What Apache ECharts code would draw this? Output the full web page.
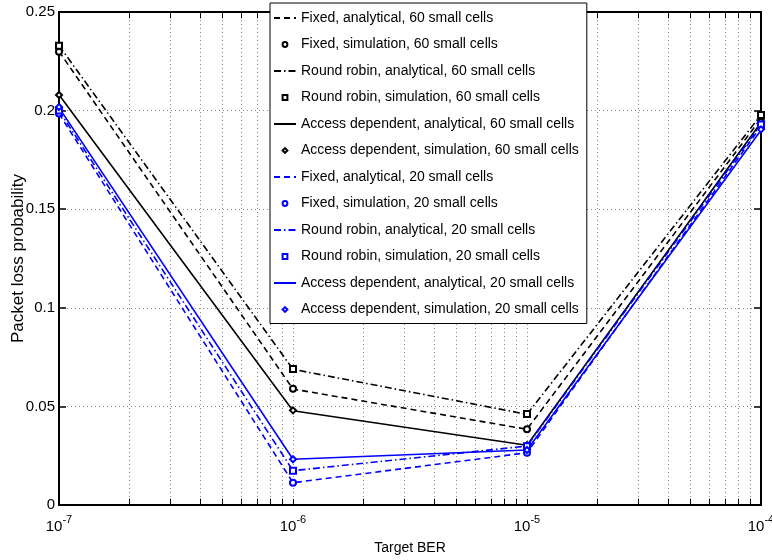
<!DOCTYPE html>
<html>
<head>
<meta charset="utf-8">
<script src="https://cdn.jsdelivr.net/npm/echarts@6/dist/echarts.min.js"></script>
<style>html,body{margin:0;padding:0;background:#fff;}#c{width:772px;height:560px;}</style>
</head>
<body>
<div id="c"></div>
<script>
// ---- data ----
const targetBER = [1e-7, 1e-6, 1e-5, 1e-4];
const fixedAnalytical60 = [0.2300, 0.0588, 0.0384, 0.1960];
const fixedSimulation60 = [0.2299, 0.0590, 0.0384, 0.1962];
const rrAnalytical60 = [0.2330, 0.0688, 0.0460, 0.1978];
const rrSimulation60 = [0.2329, 0.0690, 0.0461, 0.1978];
const adAnalytical60 = [0.2080, 0.0478, 0.0303, 0.1940];
const adSimulation60 = [0.2079, 0.0480, 0.0303, 0.1945];
const fixedAnalytical20 = [0.1985, 0.0113, 0.0265, 0.1920];
const fixedSimulation20 = [0.1985, 0.0113, 0.0265, 0.1915];
const rrAnalytical20 = [0.2000, 0.0174, 0.0299, 0.1930];
const rrSimulation20 = [0.2000, 0.0174, 0.0298, 0.1930];
const adAnalytical20 = [0.2015, 0.0232, 0.0279, 0.1900];
const adSimulation20 = [0.2018, 0.0232, 0.0279, 0.1905];
const yTicks = [0, 0.05, 0.1, 0.15, 0.2, 0.25];
const legendNames = [
  'Fixed, analytical, 60 small cells',
  'Fixed, simulation, 60 small cells',
  'Round robin, analytical, 60 small cells',
  'Round robin, simulation, 60 small cells',
  'Access dependent, analytical, 60 small cells',
  'Access dependent, simulation, 60 small cells',
  'Fixed, analytical, 20 small cells',
  'Fixed, simulation, 20 small cells',
  'Round robin, analytical, 20 small cells',
  'Round robin, simulation, 20 small cells',
  'Access dependent, analytical, 20 small cells',
  'Access dependent, simulation, 20 small cells'
];

// minor tick positions of the log axis (2..9 x 10^k)
const minorTicks = [];
for (let k = -7; k <= -5; k++) for (let m = 2; m <= 9; m++) minorTicks.push(m * Math.pow(10, k));

const FONT = "'Liberation Sans', Arial, sans-serif";
const BLACK = '#000000', BLUE = '#0000ff';
const DASH = [6, 4], DASHDOT = [7, 3, 1.5, 3];

function pairs(arr) { return targetBER.map((x, i) => [x, arr[i]]); }
function analytical(name, arr, color, type) {
  return { name, type: 'line', data: pairs(arr), symbol: 'none', z: 3,
    lineStyle: { color, width: 1.6, type }, itemStyle: { color } };
}
function simulation(name, arr, color, symbol) {
  return { name, type: 'line', data: pairs(arr), symbol, symbolSize: 6, z: 4,
    lineStyle: { color, width: 0, opacity: 0 }, itemStyle: { color, borderWidth: 1.3 } };
}

const minorGrid = minorTicks.map(x => [{ coord: [x, 0] }, { coord: [x, 0.25] }]);
const minorTickMarks = [];
minorTicks.forEach(x => {
  minorTickMarks.push([{ coord: [x, 0] }, { coord: [x, 0.0032] }]);
  minorTickMarks.push([{ coord: [x, 0.25] }, { coord: [x, 0.2468] }]);
});

const legendData = legendNames.map((n, i) => (i % 2 === 0)
  ? { name: n, itemStyle: { opacity: 0 } }
  : { name: n });

const chart = echarts.init(document.getElementById('c'), null, { renderer: 'canvas' });
chart.setOption({
  animation: false,
  backgroundColor: '#fff',
  grid: { left: 59, right: 11, top: 12, bottom: 55, outerBoundsMode: 'none', containLabel: false },
  legend: {
    data: legendData, z: 20,
    orient: 'vertical', left: 270, top: 3,
    padding: [8, 8, 7, 3],
    itemWidth: 22, itemHeight: 6, itemGap: 12.5,
    backgroundColor: '#fff', borderColor: '#000', borderWidth: 1, borderRadius: 0,
    textStyle: { fontFamily: FONT, fontSize: 14, color: '#000', lineHeight: 14 },
    selectedMode: false
  },
  xAxis: [{
    type: 'log', logBase: 10, min: 1e-7, max: 1e-4, position: 'bottom',
    name: 'Target BER', nameLocation: 'middle', nameGap: 36, nameMoveOverlap: false,
    nameTextStyle: { fontFamily: FONT, fontSize: 14, color: '#000' },
    axisLine: { show: true, onZero: false, lineStyle: { color: '#000', width: 2 } },
    axisTick: { show: true, inside: true, length: 6, lineStyle: { color: '#000', width: 1 } },
    minorTick: { show: false },
    splitLine: { show: true, lineStyle: { color: '#888', type: [1, 3], width: 1 } },
    axisLabel: {
      margin: 9, color: '#000',
      formatter: v => '{b|10}{s|' + Math.round(Math.log10(v)) + '}',
      rich: {
        b: { fontFamily: FONT, fontSize: 15, color: '#000', verticalAlign: 'bottom' },
        s: { fontFamily: FONT, fontSize: 11, color: '#000', verticalAlign: 'bottom', padding: [0, 0, 9, 0] }
      }
    }
  }, {
    type: 'log', logBase: 10, min: 1e-7, max: 1e-4, position: 'top',
    axisLine: { show: true, onZero: false, lineStyle: { color: '#000', width: 2 } },
    axisTick: { show: true, inside: true, length: 6, lineStyle: { color: '#000', width: 1 } },
    axisLabel: { show: false }, splitLine: { show: false }
  }],
  yAxis: [{
    type: 'value', min: 0, max: 0.25, interval: 0.05, position: 'left',
    name: 'Packet loss probability', nameLocation: 'middle', nameGap: 32, nameMoveOverlap: false,
    nameTextStyle: { fontFamily: FONT, fontSize: 17, color: '#000' },
    axisLine: { show: true, onZero: false, lineStyle: { color: '#000', width: 2 } },
    axisTick: { show: true, inside: true, length: 7, lineStyle: { color: '#000', width: 1.5 } },
    splitLine: { show: true, lineStyle: { color: '#888', type: [1, 3], width: 1 } },
    axisLabel: { margin: 4, color: '#000', fontFamily: FONT, fontSize: 15,
      formatter: v => String(+v.toFixed(2)) }
  }, {
    type: 'value', min: 0, max: 0.25, interval: 0.05, position: 'right',
    axisLine: { show: true, onZero: false, lineStyle: { color: '#000', width: 2 } },
    axisTick: { show: true, inside: true, length: 7, lineStyle: { color: '#000', width: 1.5 } },
    axisLabel: { show: false }, splitLine: { show: false }
  }],
  series: [
    { name: 'minorGrid', type: 'line', data: [], z: 1, silent: true,
      markLine: { z: 1, silent: true, symbol: 'none', label: { show: false }, animation: false,
        lineStyle: { color: '#888', type: [1, 3], width: 1 }, data: minorGrid } },
    { name: 'minorTicks', type: 'line', data: [], z: 2, silent: true,
      markLine: { z: 2, silent: true, symbol: 'none', label: { show: false }, animation: false,
        lineStyle: { color: '#000', type: 'solid', width: 1 }, data: minorTickMarks } },
    analytical(legendNames[0], fixedAnalytical60, BLACK, DASH),
    simulation(legendNames[1], fixedSimulation60, BLACK, 'emptyCircle'),
    analytical(legendNames[2], rrAnalytical60, BLACK, DASHDOT),
    simulation(legendNames[3], rrSimulation60, BLACK, 'emptyRect'),
    analytical(legendNames[4], adAnalytical60, BLACK, 'solid'),
    simulation(legendNames[5], adSimulation60, BLACK, 'emptyDiamond'),
    analytical(legendNames[6], fixedAnalytical20, BLUE, DASH),
    simulation(legendNames[7], fixedSimulation20, BLUE, 'emptyCircle'),
    analytical(legendNames[8], rrAnalytical20, BLUE, DASHDOT),
    simulation(legendNames[9], rrSimulation20, BLUE, 'emptyRect'),
    analytical(legendNames[10], adAnalytical20, BLUE, 'solid'),
    simulation(legendNames[11], adSimulation20, BLUE, 'emptyDiamond')
  ]
});
</script>
</body>
</html>
